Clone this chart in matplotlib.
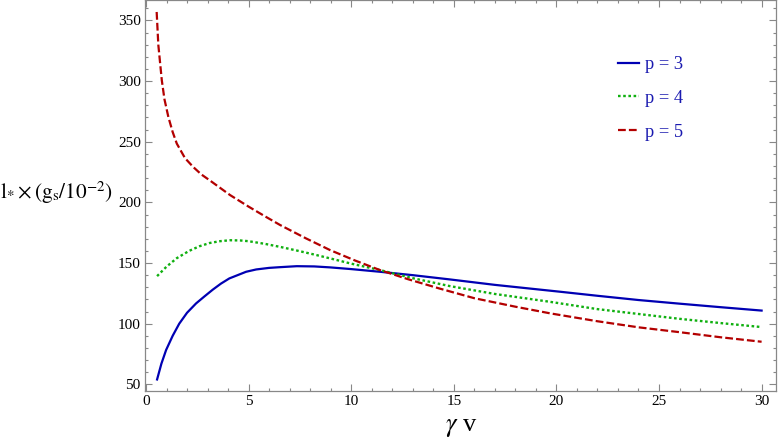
import numpy as np
import matplotlib
matplotlib.use("Agg")
import matplotlib.pyplot as plt
from matplotlib.ticker import MultipleLocator

plt.rcParams['font.family'] = ['Liberation Serif', 'DejaVu Serif']
plt.rcParams['mathtext.fontset'] = 'stix'

# values
x_p3 = [0.54, 0.75, 0.98, 1.3, 1.62, 2.0, 2.44, 2.85, 3.25, 3.65, 4.06, 4.88, 5.37, 6.0,
        6.54, 7.35, 8.2, 8.98, 10.0, 11.4, 13.0, 14.8, 17.0, 20.2, 22.0, 24.0, 26.0, 28.0, 30.0]
y_p3 = [54, 67, 78.3, 90, 100, 109, 116.7, 122.5, 128, 133, 137.3, 142.8, 144.7, 146,
        146.6, 147.4, 147.2, 146.4, 145, 142.8, 140, 136.5, 132, 126.3, 123, 119.5, 116.5, 113.6, 110.8]

x_p4 = [0.54, 1.0, 1.5, 2.1, 2.6, 3.1, 3.6, 4.1, 4.6, 5.0, 5.8, 6.54, 7.3, 8.2, 8.98, 10.0,
        11.4, 13.0, 14.8, 17.0, 19.7, 22.0, 24.0, 26.0, 28.0, 30.0]
y_p4 = [139.2, 147, 154, 160, 163.8, 166.5, 168, 168.8, 168.6, 168, 165.8, 163.3, 160.5, 157, 153.8, 149.5,
        144.2, 137.5, 131, 124.5, 118, 112, 108, 104, 100.5, 97.2]

x_p5 = [0.52, 0.6, 0.77, 0.9, 1.09, 1.3, 1.5, 1.9, 2.3, 2.7, 3.12, 4.1, 5.0, 5.8, 6.54,
        7.8, 8.98, 10.2, 11.4, 12.8, 14.3, 16.0, 18.0, 19.7, 22.0, 24.0, 26.0, 28.0, 30.0]
y_p5 = [357, 330, 300.7, 285, 270.4, 258, 248.5, 236.5, 229.2, 223, 218, 206, 196.5, 188.5, 181.3,
        170.3, 160.6, 152, 144.2, 136.5, 129, 121, 114, 108.5, 102, 97, 93, 88.8, 85.1]

labels = ['p = 3', 'p = 4', 'p = 5']

fig = plt.figure(figsize=(7.79, 4.41), dpi=100)
ax = fig.add_axes([0.1861, 0.1134, 0.8100, 0.8856])

ax.plot(x_p3, y_p3, color='#0000b3', lw=1.6, label=labels[0])
ax.plot(x_p4, y_p4, color='#10b010', lw=1.7, linestyle=(0, (1.1, 1.1)), label=labels[1])
ax.plot(x_p5, y_p5, color='#b30000', lw=1.6, linestyle=(0, (3.5, 1.4)), label=labels[2])

ax.set_xlim(-0.05, 30.7)
ax.set_ylim(44.5, 366.5)
ax.xaxis.set_major_locator(MultipleLocator(5))
ax.xaxis.set_minor_locator(MultipleLocator(1))
ax.yaxis.set_major_locator(MultipleLocator(50))
ax.yaxis.set_minor_locator(MultipleLocator(10))
ax.tick_params(which='both', direction='in', top=True, right=True, color='#888888',
               labelsize=11, width=0.8)
ax.tick_params(which='major', length=5, pad=3)
ax.tick_params(which='minor', length=2.5)
for s in ax.spines.values():
    s.set_color('#888888')
    s.set_linewidth(0.9)

leg = ax.legend(loc='upper left', bbox_to_anchor=(0.75, 0.857), frameon=False,
                fontsize=13.3, handlelength=1.1, handletextpad=0.35, labelspacing=0.9,
                labelcolor='#1a1ab0', borderaxespad=0, borderpad=0)

fig.text(0.0, 0.562, r'$\mathrm{l}_{*}\times(\mathrm{g}_{\mathrm{s}}/10^{-2})$',
         fontsize=15.3, ha='left', va='center')
fig.text(0.592, 0.03, r'$\gamma$ v', fontsize=19, ha='center', va='center')

fig.savefig('out.png', dpi=100)
